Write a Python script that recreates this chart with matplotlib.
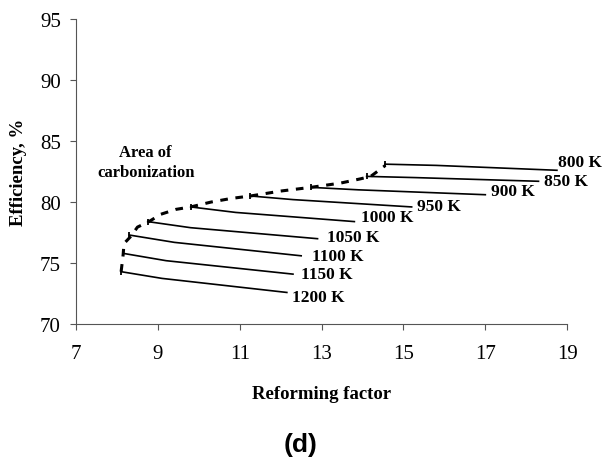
import matplotlib.pyplot as plt

# temperature curves: start point (carbonization limit), knee, end point
temps = ["800 K", "850 K", "900 K", "950 K", "1000 K", "1050 K", "1100 K", "1150 K", "1200 K"]
rf_start = [14.55, 14.1, 12.75, 11.25, 9.8, 8.75, 8.3, 8.15, 8.1]
eff_start = [83.1, 82.1, 81.2, 80.5, 79.6, 78.4, 77.3, 75.8, 74.3]
rf_knee = [15.8, 15.3, 13.9, 12.3, 10.9, 9.8, 9.4, 9.2, 9.1]
eff_knee = [83.0, 82.0, 81.0, 80.2, 79.15, 77.9, 76.7, 75.2, 73.75]
rf_end = [18.75, 18.3, 17.0, 15.2, 13.8, 12.9, 12.5, 12.3, 12.15]
eff_end = [82.6, 81.7, 80.6, 79.6, 78.4, 77.0, 75.6, 74.1, 72.6]

# carbonization boundary
rf_boundary = [8.1, 8.15, 8.17, 8.34, 8.5, 8.78, 9.07, 9.44, 9.8, 10.3, 10.8,
               11.27, 12.0, 12.73, 13.46, 13.95, 14.2, 14.44, 14.56]
eff_boundary = [74.3, 75.7, 76.6, 77.2, 77.95, 78.4, 79.0, 79.4, 79.6, 80.0, 80.3,
                80.5, 80.9, 81.2, 81.55, 81.9, 82.1, 82.7, 83.0]

# label offsets in points (dx, dy)
label_offsets = [(1, 6), (4, 0), (4, 3), (4, 1), (5, 3), (7, 1), (8, 0), (6, 0), (4, -3)]

serif = "Liberation Serif"

fig = plt.figure(figsize=(6.04, 4.60), dpi=100)
ax = fig.add_axes([0.126, 0.293, 0.813, 0.664])

for i, t in enumerate(temps):
    ax.plot([rf_start[i], rf_knee[i], rf_end[i]],
            [eff_start[i], eff_knee[i], eff_end[i]],
            color="black", linewidth=1.2)
    ax.plot(rf_start[i], eff_start[i], marker="|", markersize=4,
            color="black", markeredgewidth=1.3)
    ax.annotate(t, (rf_end[i], eff_end[i]), xytext=label_offsets[i],
                textcoords="offset points", ha="left", va="center",
                fontfamily=serif, fontweight="bold", fontsize=12.5)

ax.plot(rf_boundary, eff_boundary, color="black", linewidth=2.2,
        linestyle=(0, (2.5, 2.5)))

ax.text(8.7, 83.3, "Area of\ncarbonization", ha="center", va="center",
        fontfamily=serif, fontweight="bold", fontsize=12, linespacing=1.3)

ax.set_xlim(7, 19)
ax.set_ylim(70, 95)
ax.set_xticks(range(7, 20, 2))
ax.set_yticks(range(70, 96, 5))
for s in ["top", "right"]:
    ax.spines[s].set_visible(False)
for s in ["left", "bottom"]:
    ax.spines[s].set_color("#555555")
    ax.spines[s].set_linewidth(0.8)
ax.tick_params(direction="out", length=4, width=0.8, color="#555555",
               labelsize=15)
ax.tick_params(axis="x", pad=10)
ax.tick_params(axis="y", pad=7)
for lab in ax.get_xticklabels() + ax.get_yticklabels():
    lab.set_fontfamily(serif)

ax.set_xlabel("Reforming factor", fontfamily=serif, fontweight="bold",
              fontsize=13.5, labelpad=16)
ax.set_ylabel("Efficiency, %", fontfamily=serif, fontweight="bold",
              fontsize=13.5, labelpad=9)

fig.text(0.497, 0.032, "(d)", ha="center", va="center",
         fontfamily="Liberation Sans", fontweight="bold", fontsize=19)

fig.savefig("out.png", dpi=100)
